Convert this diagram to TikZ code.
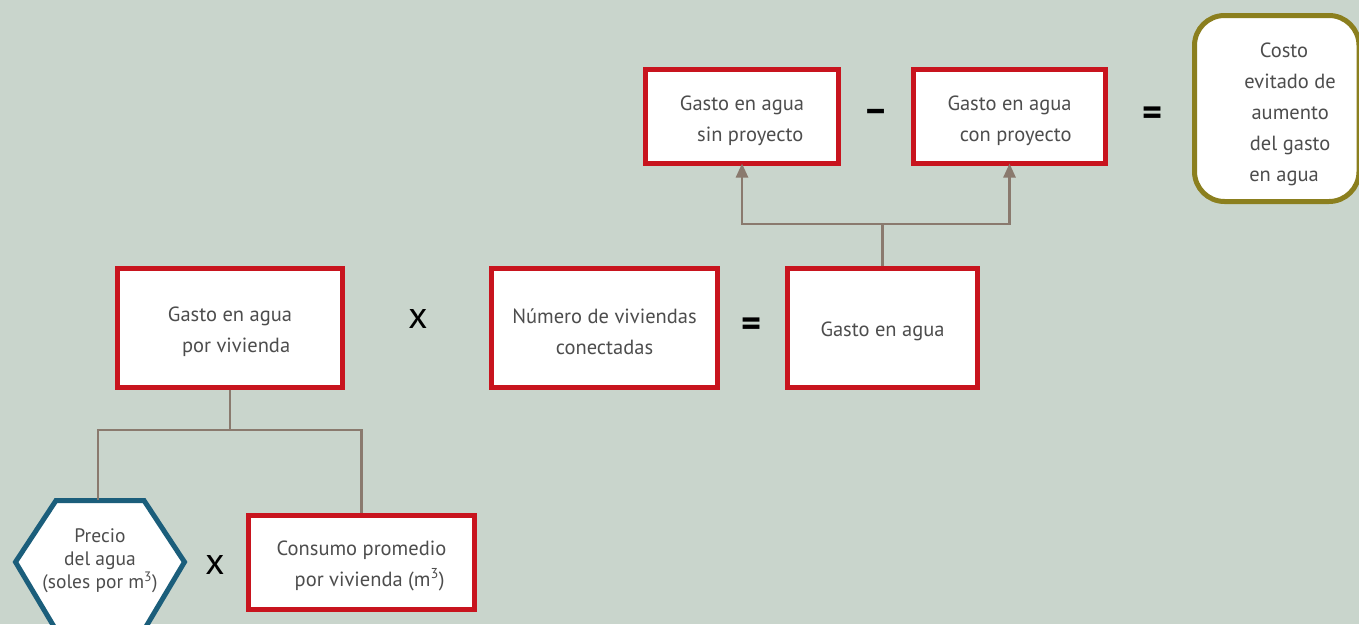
\documentclass[tikz,border=0pt]{standalone}
\usepackage{fontspec}
\setmainfont{PT Sans}
\usetikzlibrary{arrows.meta}
\definecolor{bg}{HTML}{C9D5CC}
\definecolor{boxred}{HTML}{C8141E}
\definecolor{hexblue}{HTML}{1B5E7B}
\definecolor{olive}{HTML}{8B7F1E}
\definecolor{conn}{HTML}{8A7A6E}
\definecolor{txt}{HTML}{4D4D4D}
\tikzset{
  redbox/.style={draw=boxred, line width=5pt, fill=white, inner sep=0pt},
  boxtext/.style={align=center, text=txt, font=\fontsize{20.5}{31}\selectfont, inner sep=0pt},
  link/.style={draw=conn, line width=2.5pt},
  arrowlink/.style={link, -{Triangle[width=12pt,length=14pt]}},
  op/.style={font=\fontsize{38}{38}\selectfont, text=black, inner sep=0pt}
}
\begin{document}
\begin{tikzpicture}[x=1pt,y=-1pt]
\useasboundingbox[fill=bg] (0,0) rectangle (1359,624);
% boxes
\node[redbox, minimum width=225pt, minimum height=119pt] (gpv) at (230,328) {};
\node[boxtext] (gpvt) at ([yshift=-4pt]gpv.center) {Gasto en agua\\ \hspace*{0.6em}por vivienda};
\node[redbox, minimum width=226pt, minimum height=119pt] (nvc) at (604.5,328) {};
\node[boxtext] (nvct) at ([yshift=-4pt]nvc.center) {Número de viviendas\\ conectadas};
\node[redbox, minimum width=190pt, minimum height=119pt] (ga) at (882.5,328) {};
\node[boxtext] (gat) at ([yshift=-3pt]ga.center) {Gasto en agua};
\node[redbox, minimum width=193pt, minimum height=94pt] (sin) at (742,116.5) {};
\node[boxtext] (sint) at ([yshift=-4pt]sin.center) {Gasto en agua\\ \hspace*{0.8em}sin proyecto};
\node[redbox, minimum width=192pt, minimum height=94pt] (con) at (1009.5,116.5) {};
\node[boxtext] (cont) at ([yshift=-4pt]con.center) {Gasto en agua\\ \hspace*{0.6em}con proyecto};
\node[redbox, minimum width=226pt, minimum height=94pt] (cons) at (361.5,562.5) {};
\node[boxtext] (const) at ([yshift=-3pt]cons.center) {Consumo promedio\\ \hspace*{0.8em}por vivienda (m\textsuperscript{3})};
\node[draw=olive, line width=5pt, fill=white, rounded corners=30pt, minimum width=164.5pt, minimum height=186pt, inner sep=0pt] (costo) at (1276.75,108.5) {};
\node[boxtext] (costotxt) at (1284,114.5) {Costo\\ \hspace*{0.6em}evitado de\\ \hspace*{0.6em}aumento\\ \hspace*{0.6em}del gasto\\ en agua};
% hexagon
\draw[hexblue, line width=5pt, fill=white, line join=miter]
  (15.5,562) -- (56,500.5) -- (144,500.5) -- (184.5,562) -- (144,630) -- (56,630) -- cycle;
\coordinate (hextop) at (98,500);
\node[text=txt, align=center, font=\fontsize{19.5}{23}\selectfont] (hex) at (100,561) {Precio\\ del agua\\ (soles por m\textsuperscript{3})};
% operators
\node[op] (x1) at (418,319) {x};
\node[op] (eq1) at (752,327) {\textbf{=}};
\node[op] (minus) at (876,116) {\textbf{–}};
\node[op] (eq2) at (1152,116) {\textbf{=}};
\node[op] (x2) at (215,565) {x};
% connectors
\coordinate (j1) at (230,430);
\draw[link] (gpv.south) -- (j1);
\draw[link] (j1) -| (hextop);
\draw[link] (j1) -| (cons.north);
\coordinate (j2) at (882.5,224);
\draw[link] (ga.north) -- (j2);
\draw[arrowlink] (j2) -| ([yshift=2.5pt]sin.south);
\draw[arrowlink] (j2) -| ([yshift=2.5pt]con.south);
\end{tikzpicture}
\end{document}
